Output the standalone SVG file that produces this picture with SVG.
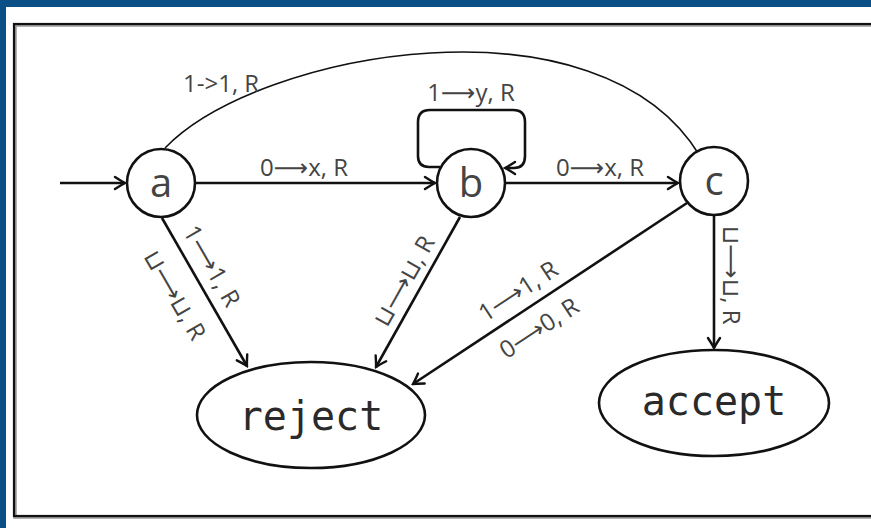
<svg xmlns="http://www.w3.org/2000/svg" width="871" height="528" viewBox="0 0 871 528">
  <defs>
    <marker id="arrow" viewBox="-12 -8 14 16" markerWidth="14" markerHeight="16" refX="0" refY="0" orient="auto" markerUnits="userSpaceOnUse">
      <path d="M-10,-6 Q-3,-1.5 0,0 Q-3,1.5 -10,6" fill="none" stroke="#111" stroke-width="2.4" stroke-linecap="round"/>
    </marker>
  </defs>
  <style>
    .edge { fill: none; stroke: #111; stroke-width: 2.6; }
    .thin { fill: none; stroke: #111; stroke-width: 1.6; }
    .state { fill: #fff; stroke: #111; stroke-width: 2.6; }
    .lbl { font-family: "Open Sans", "DejaVu Sans", sans-serif; font-size: 24px; fill: #444; }
    .sym { font-family: "Open Sans", "DejaVu Sans", sans-serif; font-size: 40px; fill: #444; }
    .halt { font-family: "DejaVu Sans Mono", "Liberation Mono", monospace; font-size: 40px; fill: #2a2a2a; }
  </style>

  <!-- page background and frame -->
  <rect x="0" y="0" width="871" height="528" fill="#fff"/>
  <rect x="0" y="0" width="871" height="7" fill="#0b4f87"/>
  <rect x="0" y="0" width="6" height="528" fill="#0b4f87"/>
  <rect x="15" y="25" width="870" height="492" fill="none" stroke="#999" stroke-width="3.5"/>
  <rect x="14" y="24" width="870" height="492" fill="none" stroke="#111" stroke-width="2.2"/>

  <!-- transitions -->
  <g id="connectors">
    <path class="edge" d="M60 183 H125" marker-end="url(#arrow)"/>
    <path class="edge" d="M196 183 H435" marker-end="url(#arrow)"/>
    <path class="edge" d="M506 183 H678" marker-end="url(#arrow)"/>
    <path class="edge" d="M440 167 H429 Q418 167 418 156 V122 Q418 110 430 110 H513 Q525 110 525 122 V156 Q525 168 514 168 H505" marker-end="url(#arrow)"/>
    <path class="thin" d="M165 148 C260 50 600 -10 700 156"/>
    <path class="edge" d="M162 218 L247 366" marker-end="url(#arrow)"/>
    <path class="edge" d="M460 217 L376 367" marker-end="url(#arrow)"/>
    <path class="edge" d="M687 203 L413 384" marker-end="url(#arrow)"/>
    <path class="edge" d="M714 216 V348" marker-end="url(#arrow)"/>

    <text class="lbl" x="183" y="92">1-&gt;1, R</text>
    <text class="lbl" x="471" y="101" text-anchor="middle">1⟶y, R</text>
    <text class="lbl" x="304" y="176" text-anchor="middle">0⟶x, R</text>
    <text class="lbl" x="600" y="176" text-anchor="middle">0⟶x, R</text>
    <text class="lbl" text-anchor="middle" dy="0.35em" transform="translate(212 266) rotate(60)">1⟶1, R</text>
    <text class="lbl" text-anchor="middle" dy="0.35em" transform="translate(175 295) rotate(60)">⊔⟶⊔, R</text>
    <text class="lbl" text-anchor="middle" dy="0.35em" transform="translate(404 281) rotate(-60.7)">⊔⟶⊔, R</text>
    <text class="lbl" text-anchor="middle" dy="0.35em" transform="translate(518 291) rotate(-33.4)">1⟶1, R</text>
    <text class="lbl" text-anchor="middle" dy="0.35em" transform="translate(539 328) rotate(-33.4)">0⟶0, R</text>
    <text class="lbl" text-anchor="middle" dy="0.35em" transform="translate(731 275) rotate(90)">⊔⟶⊔, R</text>
  </g>

  <!-- states -->
  <g id="state-a">
    <circle class="state" cx="161" cy="183" r="34"/>
    <text class="sym" x="161" y="197" text-anchor="middle">a</text>
  </g>
  <g id="state-b">
    <circle class="state" cx="471" cy="183" r="34"/>
    <text class="sym" x="471" y="197" text-anchor="middle">b</text>
  </g>
  <g id="state-c">
    <circle class="state" cx="714" cy="181" r="34"/>
    <text class="sym" x="714" y="195" text-anchor="middle">c</text>
  </g>
  <g id="state-reject">
    <ellipse class="state" cx="311" cy="415" rx="114" ry="53"/>
    <text class="halt" x="311" y="430" text-anchor="middle">reject</text>
  </g>
  <g id="state-accept">
    <ellipse class="state" cx="714" cy="403" rx="115" ry="53"/>
    <text class="halt" x="714" y="415" text-anchor="middle">accept</text>
  </g>
</svg>
